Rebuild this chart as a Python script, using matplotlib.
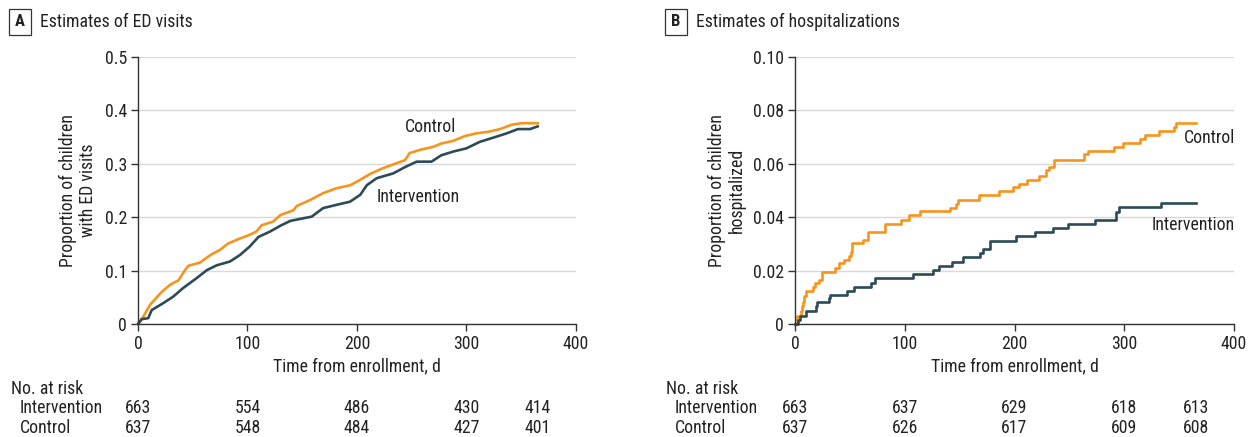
import numpy as np
import matplotlib
matplotlib.use("Agg")
import matplotlib.pyplot as plt

plt.rcParams['font.family'] = ['Roboto Condensed', 'Liberation Sans', 'DejaVu Sans']

# Panel A: cumulative proportion with ED visits
a_ctrl_days = [0, 4.9, 11, 21.6, 29, 37, 43, 46, 56.6, 66, 75, 82.5, 93, 102, 108, 113,
               123.6, 130, 142, 145, 157, 169, 181, 194, 203, 212, 224, 236, 244, 248,
               257.5, 270, 277, 288, 298.6, 309, 320, 330.6, 341, 350, 365]
a_ctrl_vals = [0, 0.014, 0.036, 0.060, 0.073, 0.082, 0.101, 0.109, 0.115, 0.129, 0.139,
               0.151, 0.160, 0.167, 0.173, 0.185, 0.192, 0.204, 0.213, 0.221, 0.232,
               0.245, 0.254, 0.260, 0.270, 0.281, 0.292, 0.301, 0.307, 0.320, 0.326,
               0.332, 0.338, 0.343, 0.352, 0.357, 0.360, 0.365, 0.373, 0.376, 0.376]
a_int_days = [0, 3.4, 9.4, 12.5, 23, 32, 41, 53.6, 63, 72, 84, 93, 102, 110, 120.5, 130,
              139, 151, 158.6, 169, 181, 193.6, 203, 209, 218, 233, 245, 254.5, 268, 277,
              288, 300, 312, 324.5, 336.7, 347, 358, 365]
a_int_vals = [0, 0.009, 0.011, 0.026, 0.039, 0.051, 0.067, 0.086, 0.101, 0.110, 0.117,
              0.129, 0.145, 0.163, 0.173, 0.184, 0.193, 0.198, 0.201, 0.217, 0.223,
              0.229, 0.242, 0.260, 0.273, 0.282, 0.295, 0.304, 0.304, 0.316, 0.323,
              0.329, 0.341, 0.349, 0.357, 0.365, 0.365, 0.370]

# Panel B: cumulative proportion hospitalized
b_ctrl_days = [0, 1.5, 5.2, 6.4, 7.6, 8.5, 9.7, 16.7, 18.2, 22.1, 24.2, 36.4, 40.3, 44.5,
               49.4, 50.6, 51.8, 62.1, 66.1, 81.8, 97, 103.6, 113.6, 141, 146.4, 148.5,
               167.6, 185.8, 198.5, 204, 211.2, 222, 228.8, 231.8, 236.4, 263.6, 266.7,
               290.9, 298.5, 314.2, 319.1, 331.8, 345.5, 347, 365]
b_ctrl_vals = [0, 0.0029, 0.0047, 0.0066, 0.0084, 0.0103, 0.0122, 0.0140, 0.0153, 0.0165,
               0.0196, 0.0209, 0.0227, 0.0240, 0.0256, 0.0271, 0.0302, 0.0314, 0.0345,
               0.0376, 0.0391, 0.0407, 0.0424, 0.0436, 0.0451, 0.0466, 0.0482, 0.0498,
               0.0513, 0.0525, 0.0540, 0.0556, 0.0575, 0.0587, 0.0616, 0.0635, 0.0647,
               0.0662, 0.0677, 0.0693, 0.0708, 0.0722, 0.0737, 0.0753, 0.0753]
b_int_days = [0, 2.7, 4.2, 9.7, 19.1, 20.3, 31.2, 31.8, 47.6, 53.6, 68.8, 72.7, 107.6,
              125.8, 130.9, 143, 153, 169, 171.2, 177.3, 201.5, 218.8, 234.8, 248.5,
              273.6, 292.4, 294.8, 333.3, 365]
b_int_vals = [0, 0.0016, 0.0031, 0.0047, 0.0066, 0.0081, 0.0097, 0.0109, 0.0124, 0.0140,
              0.0155, 0.0171, 0.0188, 0.0202, 0.0219, 0.0233, 0.0252, 0.0265, 0.0281,
              0.0312, 0.0329, 0.0345, 0.0360, 0.0376, 0.0391, 0.0420, 0.0438, 0.0455,
              0.0455]

risk_days = [0, 100, 200, 300, 365]
a_risk_int = [663, 554, 486, 430, 414]
a_risk_ctrl = [637, 548, 484, 427, 401]
b_risk_int = [663, 637, 629, 618, 613]
b_risk_ctrl = [637, 626, 617, 609, 608]

ORANGE = '#F7941D'
TEAL = '#2C4B57'
TXT = '#222222'
FS = 12.8
W, H = 1255, 437

fig = plt.figure(figsize=(12.55, 4.37), dpi=100)

def fx(px):
    return px / W

def fy(py):
    return 1 - py / H

def setup(ax, ymax, yticks, ylabels, ylab, labx):
    ax.set_xlim(0, 400)
    ax.set_ylim(0, ymax)
    ax.set_xticks([0, 100, 200, 300, 400])
    ax.set_yticks(yticks)
    ax.set_yticklabels(ylabels)
    for s in ['top', 'right']:
        ax.spines[s].set_visible(False)
    for s in ['left', 'bottom']:
        ax.spines[s].set_color('#333333')
        ax.spines[s].set_linewidth(1.0)
    ax.tick_params(length=5, width=1.0, color='#333333', labelsize=FS,
                   labelcolor=TXT, pad=3)
    ax.grid(axis='y', color='#d9d9d9', linewidth=1.0)
    ax.set_axisbelow(True)
    ax.set_xlabel('Time from enrollment, d', fontsize=FS, color=TXT)
    ax.xaxis.set_label_coords(0.5, -(366 - 324) / 267, transform=ax.transAxes)
    ax.xaxis.label.set_va('center')
    ax.set_ylabel(ylab, fontsize=FS, color=TXT, linespacing=1.1)
    ax.yaxis.set_label_coords(labx, 0.5)
    ax.yaxis.label.set_va('center')

axA = fig.add_axes([fx(138), fy(324), fx(576 - 138), (324 - 57) / H])
axB = fig.add_axes([fx(795), fy(324), fx(1234 - 795), (324 - 57) / H])

setup(axA, 0.5, [0, 0.1, 0.2, 0.3, 0.4, 0.5], ['0', '0.1', '0.2', '0.3', '0.4', '0.5'],
      'Proportion of children\nwith ED visits', (78 - 138) / 438)
setup(axB, 0.10, [0, 0.02, 0.04, 0.06, 0.08, 0.10],
      ['0', '0.02', '0.04', '0.06', '0.08', '0.10'],
      'Proportion of children\nhospitalized', (727 - 795) / 439)

# dense KM curves in A drawn as lines, sparse ones in B as steps
axA.plot(a_ctrl_days, a_ctrl_vals, color=ORANGE, lw=1.9, clip_on=False)
axA.plot(a_int_days, a_int_vals, color=TEAL, lw=1.9, clip_on=False)
axB.step(b_ctrl_days, b_ctrl_vals, where='post', color=ORANGE, lw=1.9, clip_on=False)
axB.step(b_int_days, b_int_vals, where='post', color=TEAL, lw=1.9, clip_on=False)

axA.text(244, 0.369, 'Control', fontsize=FS, color=TXT, va='center', ha='left')
axA.text(218, 0.238, 'Intervention', fontsize=FS, color=TXT, va='center', ha='left')
axB.text(401, 0.0697, 'Control', fontsize=FS, color=TXT, va='center', ha='right')
axB.text(401, 0.0371, 'Intervention', fontsize=FS, color=TXT, va='center', ha='right')

# panel titles
for px, letter, title in [(20, 'A', 'Estimates of ED visits'),
                          (676, 'B', 'Estimates of hospitalizations')]:
    fig.text(fx(px), fy(22), letter, fontsize=12, fontweight='bold', color=TXT,
             ha='center', va='center',
             bbox=dict(boxstyle='square,pad=0.35', fc='white', ec='#333333', lw=0.9))
    fig.text(fx(px + 20), fy(22), title, fontsize=FS, color=TXT, va='center')

# number at risk tables
for ax, x0, ints, ctrls in [(axA, 11, a_risk_int, a_risk_ctrl),
                            (axB, 666, b_risk_int, b_risk_ctrl)]:
    fig.text(fx(x0), fy(389), 'No. at risk', fontsize=FS, color=TXT, va='center')
    fig.text(fx(x0 + 9), fy(408), 'Intervention', fontsize=FS, color=TXT, va='center')
    fig.text(fx(x0 + 9), fy(428), 'Control', fontsize=FS, color=TXT, va='center')
    trans = ax.get_xaxis_transform()
    y_int = -(408 - 324) / 267
    y_ctrl = -(428 - 324) / 267
    for d, ni, nc in zip(risk_days, ints, ctrls):
        ax.text(d, y_int, str(ni), transform=trans, fontsize=FS, color=TXT,
                ha='center', va='center', clip_on=False)
        ax.text(d, y_ctrl, str(nc), transform=trans, fontsize=FS, color=TXT,
                ha='center', va='center', clip_on=False)

fig.savefig('out.png', dpi=100)
